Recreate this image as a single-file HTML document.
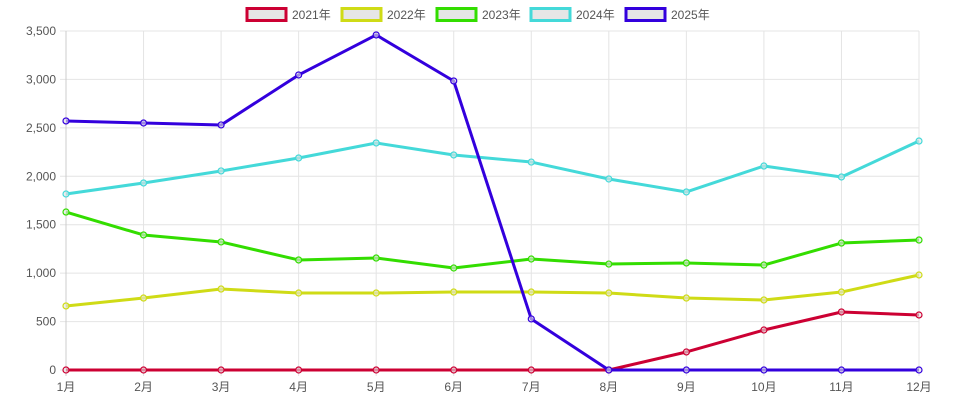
<!DOCTYPE html>
<html><head><meta charset="utf-8"><style>
body{margin:0;background:#fff;}
svg{display:block;font-family:"Liberation Sans","Noto Sans CJK SC",sans-serif;}
</style></head><body>
<svg id="chart" width="956" height="406" viewBox="0 0 956 406"></svg>
<script>
const categories=["1月","2月","3月","4月","5月","6月","7月","8月","9月","10月","11月","12月"];
const yTicks=[0,500,1000,1500,2000,2500,3000,3500];
const yTickLabels=["0","500","1,000","1,500","2,000","2,500","3,000","3,500"];
const seriesNames=["2021年","2022年","2023年","2024年","2025年"];
const seriesColors=["#cc0033","#cfdb16","#33dd00","#44d9d9","#3300dd"];
const s2021=[0,0,0,0,0,0,0,0,186,413,599,568];
const s2022=[661,743,836,795,795,805,805,795,743,723,805,981];
const s2023=[1631,1394,1322,1136,1156,1053,1146,1094,1105,1084,1311,1342];
const s2024=[1817,1931,2055,2189,2344,2220,2147,1972,1838,2106,1993,2364];
const s2025=[2571,2550,2530,3046,3459,2984,527,0,0,0,0,0];
const seriesData=[s2021,s2022,s2023,s2024,s2025];

const NS="http://www.w3.org/2000/svg";
const svg=document.getElementById("chart");
const X0=66,X1=919,Y0=370,Y1=31,YMAX=3500;
const xScale=i=>X0+(X1-X0)*i/(categories.length-1);
const yScale=v=>Y0-(Y0-Y1)*v/YMAX;
function mk(tag,attrs,parent){const e=document.createElementNS(NS,tag);for(const k in attrs)e.setAttribute(k,attrs[k]);(parent||svg).appendChild(e);return e;}

const grid=mk("g",{});


yTicks.forEach((t,i)=>{
  const y=yScale(t);
  const l=mk("line",{x1:X0-6,x2:X1,y1:y,y2:y,stroke:"#e4e4e4","stroke-width":1},grid);
  
  
  const tx=mk("text",{x:X0-10,y:y+4,"text-anchor":"end","font-size":12,fill:"#555"});
  tx.textContent=yTickLabels[i];
  
  
});
categories.forEach((c,i)=>{
  const x=xScale(i);
  const l=mk("line",{x1:x,x2:x,y1:Y1,y2:Y0+6,stroke:i==0?"#ccc":"#e4e4e4","stroke-width":1},grid);
  
  
  const tx=mk("text",{x:x,y:Y0+21,"text-anchor":"middle","font-size":12,fill:"#555"});
  tx.textContent=c;
  
  
});

seriesData.forEach((d,s)=>{
  const g=mk("g",{});
  
  
  const pts=d.map((v,i)=>xScale(i)+","+yScale(v)).join(" ");
  const pl=mk("polyline",{points:pts,fill:"none",stroke:seriesColors[s],"stroke-width":3,"stroke-linejoin":"round"},g);
  
  
  d.forEach((v,i)=>{
    const c=mk("circle",{cx:xScale(i),cy:yScale(v),r:3,fill:"rgba(230,230,230,0.6)",stroke:seriesColors[s],"stroke-width":1.2},g);
    
    
  });
});

const legend=mk("g",{});


const legX=[246,341,436,530,625];
seriesNames.forEach((n,s)=>{
  const g=mk("g",{},legend);
  
  
  const r=mk("rect",{x:legX[s]+1,y:8.5,width:39,height:12,fill:"#e6e6e6",stroke:seriesColors[s],"stroke-width":3},g);
  
  
  const t=mk("text",{x:legX[s]+46,y:19,"font-size":12,fill:"#555"},g);
  t.textContent=n;
  
  
});
</script>
</body></html>
